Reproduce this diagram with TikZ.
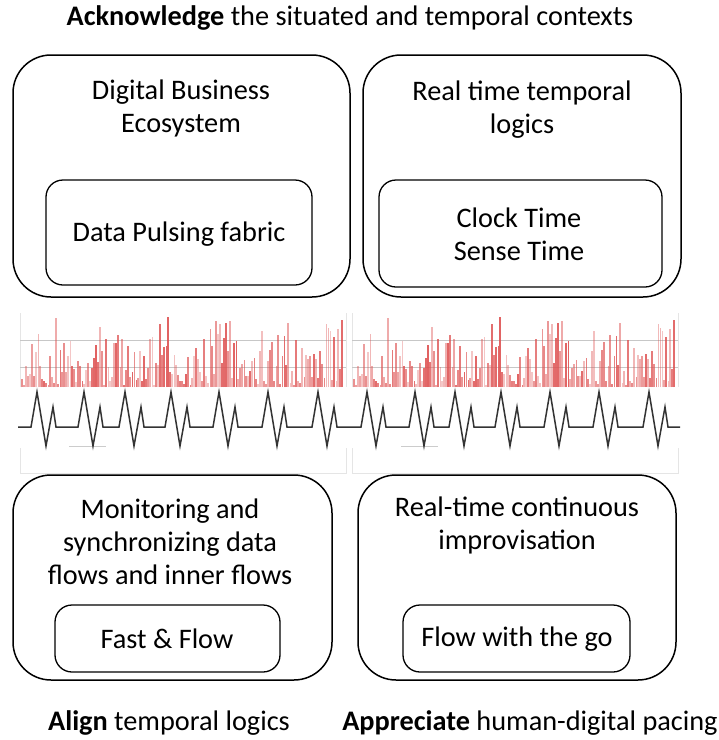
\documentclass[tikz,border=0pt]{standalone}
\usepackage{fontspec}
\setmainfont{Carlito}
\definecolor{barred}{RGB}{222,80,80}
\begin{document}
\begin{tikzpicture}[x=1pt,y=-1pt,
  outerbox/.style={draw=black,line width=1.5pt,rounded corners=38pt,inner sep=0pt},
  innerbox/.style={draw=black,line width=1.3pt,rounded corners=17pt,inner sep=0pt},
  lbl/.style={align=center,inner sep=0pt,font=\fontsize{28.3}{33}\selectfont},
  grid/.style={draw=black!22,line width=0.7pt},
  frame/.style={draw=black!10,line width=1pt},
  wave/.style={draw=black!80,line width=1.5pt,line join=miter},
  bar/.style={draw=barred}]
\useasboundingbox (0,0) rectangle (719,740);
\fill[white] (0,0) rectangle (719,740);

% title
\node[lbl] (title) at (350,18) {\textbf{Acknowledge} the situated and temporal contexts};

% top-left
\node[outerbox,minimum width=337pt,minimum height=242pt] (tl) at (181.5,176) {};
\node[innerbox,minimum width=266pt,minimum height=105pt] (tli) at (179,232.5) {};
\node[lbl] (tlt) at (181,108.5) {Digital Business\\Ecosystem};
\node[lbl] (tlit) at (179,234) {Data Pulsing fabric};

% top-right
\node[outerbox,minimum width=318pt,minimum height=242pt] (tr) at (522,176) {};
\node[innerbox,minimum width=283pt,minimum height=107pt] (tri) at (520.5,233.5) {};
\node[lbl] (trt) at (522,110) {Real time temporal\\logics};
\node[lbl] (trit) at (519,234.5) {Clock Time\\Sense Time};

% charts
\foreach \ox [count=\c] in {0,332}{
  \begin{scope}[xshift=\ox]
    \draw[frame] (20,313) -- (20,387);
    \draw[frame] (346,313) -- (346,387);
    \draw[frame] (20,448) -- (20,473) -- (346,473) -- (346,448);
    \draw[grid] (20,340) -- (346,340);
    \draw[grid] (20,367) -- (346,367);
    \pgfmathsetseed{4242}
    \foreach \i in {0,...,160}{
      \pgfmathsetmacro\env{0.45+0.55*abs(sin(\i*6.3))}
      \pgfmathsetmacro\h{2+70*\env*pow(rnd,1.4)}
      \pgfmathsetmacro\op{0.3+0.6*rnd}
      \pgfmathsetmacro\w{0.7+1.6*rnd}
      \draw[bar,draw opacity=\op,line width=\w pt] (22+\i*2,387) -- (22+\i*2,387-\h);
    }
    \draw[draw=black!20,line width=1pt] (69,446) -- (106,446);
  \end{scope}
}
\draw[wave] (18,427)
  foreach \p in {37,84,125,171,219,268,318,367,415,455,501,550,599,649}
  { -- (\p-6,427) -- (\p,392) -- (\p+9,446) -- (\p+16,407) -- (\p+19,427) }
  -- (680,427);

% bottom-left
\node[outerbox,minimum width=319pt,minimum height=205pt] (bl) at (172.5,577.5) {};
\node[innerbox,minimum width=225pt,minimum height=67pt] (bli) at (167.5,638.5) {};
\node[lbl] (blt) at (170,542) {Monitoring and\\synchronizing data\\flows and inner flows};
\node[lbl] (blit) at (167,639) {Fast \& Flow};

% bottom-right
\node[outerbox,minimum width=318pt,minimum height=205pt] (br) at (517,577.5) {};
\node[innerbox,minimum width=227pt,minimum height=67pt] (bri) at (516.5,638.5) {};
\node[lbl] (brt) at (517,525) {Real-time continuous\\improvisation};
\node[lbl] (brit) at (517,639) {Flow with the go};

% bottom labels
\node[lbl] (align) at (169,723) {\textbf{Align} temporal logics};
\node[lbl] (appr) at (530,723) {\textbf{Appreciate} human-digital pacing};
\end{tikzpicture}
\end{document}
